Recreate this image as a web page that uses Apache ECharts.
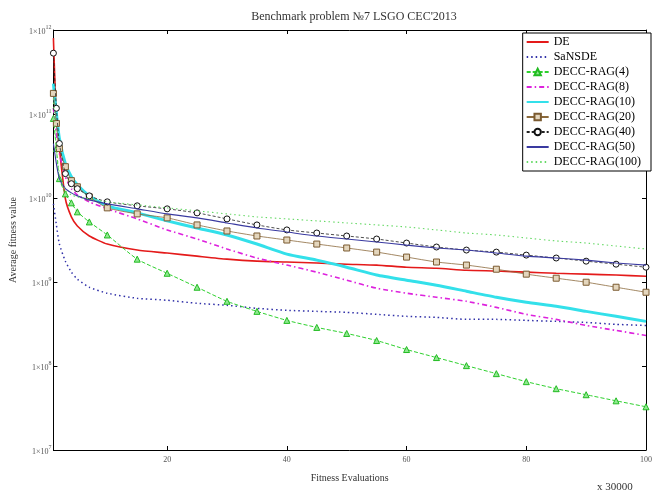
<!DOCTYPE html>
<html>
<head>
<meta charset="utf-8">
<script src="https://cdn.jsdelivr.net/npm/echarts@6/dist/echarts.min.js"></script>
<style>
  html, body { margin: 0; padding: 0; background: #fff; }
  #chart { width: 655px; height: 493px; }
</style>
</head>
<body>
<div id="chart"></div>
<script>
// Evaluation checkpoints (in units of 30000 fitness evaluations)
const evals = [1, 1.5, 2, 3, 4, 5, 7, 10, 15, 20, 25, 30, 35, 40, 45, 50, 55, 60, 65, 70, 75, 80, 85, 90, 95, 100];

// Average fitness value per algorithm at each checkpoint
const de       = [8.0e11, 8.86e10, 3.88e10, 9.8e9, 5.96e9, 4.65e9, 3.53e9, 2.83e9, 2.40e9, 2.21e9, 2.03e9, 1.87e9, 1.77e9, 1.73e9, 1.68e9, 1.63e9, 1.59e9, 1.50e9, 1.46e9, 1.38e9, 1.35e9, 1.31e9, 1.27e9, 1.24e9, 1.21e9, 1.17e9];
const sansde   = [8.52e9, 4.78e9, 2.83e9, 1.77e9, 1.31e9, 1.08e9, 8.66e8, 7.35e8, 6.40e8, 6.06e8, 5.58e8, 5.28e8, 4.86e8, 4.60e8, 4.47e8, 4.35e8, 4.12e8, 3.90e8, 3.79e8, 3.59e8, 3.59e8, 3.49e8, 3.40e8, 3.30e8, 3.13e8, 3.04e8];
const rag4     = [8.86e10, 3.88e10, 1.70e10, 1.12e10, 8.76e9, 6.84e9, 5.19e9, 3.63e9, 1.87e9, 1.27e9, 8.66e8, 5.89e8, 4.47e8, 3.49e8, 2.88e8, 2.44e8, 2.01e8, 1.57e8, 1.26e8, 1.01e8, 8.11e7, 6.51e7, 5.37e7, 4.55e7, 3.85e7, 3.27e7];
const rag8     = [1.17e11, 5.86e10, 3.38e10, 1.79e10, 1.29e10, 1.09e10, 9.0e9, 7.43e9, 5.64e9, 4.17e9, 3.25e9, 2.47e9, 1.93e9, 1.59e9, 1.31e9, 1.05e9, 8.43e8, 7.35e8, 6.58e8, 5.89e8, 4.99e8, 4.12e8, 3.59e8, 3.04e8, 2.65e8, 2.31e8];
const rag10    = [2.3e11, 1.02e11, 5.11e10, 2.56e10, 1.79e10, 1.44e10, 1.06e10, 8.07e9, 6.65e9, 5.34e9, 4.40e9, 3.63e9, 2.83e9, 2.15e9, 1.82e9, 1.50e9, 1.21e9, 1.05e9, 9.16e8, 7.76e8, 6.58e8, 5.73e8, 5.13e8, 4.47e8, 3.90e8, 3.40e8];
const rag20    = [1.76e11, 7.72e10, 3.88e10, 2.36e10, 1.61e10, 1.36e10, 1.03e10, 7.63e9, 6.47e9, 5.80e9, 4.78e9, 4.05e9, 3.53e9, 3.16e9, 2.83e9, 2.54e9, 2.27e9, 1.98e9, 1.73e9, 1.59e9, 1.42e9, 1.24e9, 1.11e9, 9.94e8, 8.66e8, 7.55e8];
const rag40    = [5.3e11, 1.17e11, 4.45e10, 1.95e10, 1.48e10, 1.29e10, 1.06e10, 9.0e9, 8.07e9, 7.43e9, 6.65e9, 5.64e9, 4.78e9, 4.17e9, 3.83e9, 3.53e9, 3.25e9, 2.91e9, 2.61e9, 2.40e9, 2.27e9, 2.09e9, 1.93e9, 1.77e9, 1.63e9, 1.50e9];
const rag50    = [4.45e10, 2.56e10, 1.70e10, 1.29e10, 1.15e10, 1.06e10, 9.5e9, 8.52e9, 7.43e9, 6.47e9, 5.80e9, 5.05e9, 4.40e9, 3.94e9, 3.53e9, 3.25e9, 2.99e9, 2.75e9, 2.54e9, 2.40e9, 2.21e9, 2.03e9, 1.93e9, 1.82e9, 1.68e9, 1.59e9];
const rag100   = [1.54e11, 3.88e10, 1.95e10, 1.22e10, 1.09e10, 1.03e10, 9.8e9, 9.0e9, 8.29e9, 7.63e9, 7.03e9, 6.47e9, 5.96e9, 5.64e9, 5.34e9, 5.05e9, 4.78e9, 4.52e9, 4.17e9, 3.83e9, 3.63e9, 3.34e9, 3.08e9, 2.91e9, 2.68e9, 2.47e9];

const seriesNames = ['DE', 'SaNSDE', 'DECC-RAG(4)', 'DECC-RAG(8)', 'DECC-RAG(10)', 'DECC-RAG(20)', 'DECC-RAG(40)', 'DECC-RAG(50)', 'DECC-RAG(100)'];

// Axis ticks
const xTicks = [20, 40, 60, 80, 100];
const yExponents = [7, 8, 9, 10, 11, 12];

const SERIF = '"Liberation Serif", "DejaVu Serif", serif';

function pairs(values) {
  return evals.map((x, i) => [x, values[i]]);
}

const styles = [
  { color: '#e41a1a', width: 1.6, type: 'solid', symbol: 'none' },
  { color: '#3030a8', width: 1.5, type: [1.5, 3], symbol: 'none' },
  { color: '#2ed12e', width: 1, type: [4, 2], symbol: 'triangle', size: 6, fill: '#8fe88f', border: '#22bb22' },
  { color: '#dd22dd', width: 1.6, type: [5, 3, 1.5, 3], symbol: 'none' },
  { color: '#33e0ea', width: 3, type: 'solid', symbol: 'none' },
  { color: '#8c6a3c', width: 0.8, type: 'solid', symbol: 'rect', size: 6, fill: '#e4d6bd', border: '#7a5a30' },
  { color: '#222222', width: 0.8, type: [3, 2], symbol: 'circle', size: 6, fill: '#ffffff', border: '#111111' },
  { color: '#3a3aa0', width: 1.1, type: 'solid', symbol: 'none' },
  { color: '#66d966', width: 1.1, type: [1.5, 3], symbol: 'none' }
];

const dataSets = [de, sansde, rag4, rag8, rag10, rag20, rag40, rag50, rag100];

const series = dataSets.map((vals, i) => {
  const s = styles[i];
  return {
    name: seriesNames[i],
    type: 'line',
    data: pairs(vals),
    smooth: 0.2,
    showSymbol: s.symbol !== 'none',
    symbol: s.symbol,
    symbolSize: s.size || 4,
    lineStyle: { color: s.color, width: s.width, type: s.type },
    itemStyle: s.symbol !== 'none'
      ? { color: s.fill, borderColor: s.border, borderWidth: 1 }
      : { color: s.color },
    animation: false,
    z: 2 + i
  };
});

// Legend entries: plain line samples for series drawn without markers
const legendData = seriesNames.map((name, i) => (
  styles[i].symbol === 'none'
    ? { name: name, itemStyle: { opacity: 0 } }
    : { name: name }
));

const chart = echarts.init(document.getElementById('chart'), null, { renderer: 'canvas' });

chart.setOption({
  backgroundColor: '#ffffff',
  animation: false,
  title: {
    text: "Benchmark problem \u21167 LSGO CEC'2013",
    left: 349,
    textAlign: 'center',
    top: 6,
    textStyle: { fontFamily: SERIF, fontSize: 12, fontWeight: 'normal', color: '#333' }
  },
  grid: { left: 48, right: 4, top: 30, bottom: 43, containLabel: false },
  legend: {
    orient: 'vertical',
    right: 4,
    top: 33,
    itemWidth: 22,
    itemHeight: 8,
    itemGap: 3,
    padding: [3, 10, 3, 3],
    backgroundColor: '#ffffff',
    borderColor: '#000',
    borderWidth: 1,
    textStyle: { fontFamily: SERIF, fontSize: 12, color: '#000' },
    data: legendData
  },
  xAxis: [
    {
      type: 'value',
      min: 1,
      max: 100,
      name: 'Fitness Evaluations',
      nameLocation: 'middle',
      nameGap: 23,
      nameTextStyle: { fontFamily: SERIF, fontSize: 10, color: '#333' },
      axisLine: { lineStyle: { color: '#000', width: 1 } },
      axisTick: { inside: true, length: 4, lineStyle: { color: '#000' }, customValues: xTicks },
      axisLabel: { customValues: xTicks, fontFamily: SERIF, fontSize: 8, color: '#555', margin: 6 },
      splitLine: { show: false }
    },
    {
      type: 'value',
      position: 'top',
      min: 1,
      max: 100,
      axisLine: { lineStyle: { color: '#000', width: 1 } },
      axisTick: { inside: true, length: 4, lineStyle: { color: '#000' }, customValues: xTicks },
      axisLabel: { show: false },
      splitLine: { show: false }
    }
  ],
  yAxis: [
    {
      type: 'log',
      logBase: 10,
      min: 1e7,
      max: 1e12,
      name: 'Average fitness value',
      nameLocation: 'middle',
      nameGap: 31,
      nameTextStyle: { fontFamily: SERIF, fontSize: 10, color: '#333' },
      axisLine: { lineStyle: { color: '#000', width: 1 } },
      axisTick: { inside: true, length: 4, lineStyle: { color: '#000' } },
      axisLabel: {
        margin: 2,
        formatter: function (v) {
          const e = Math.round(Math.log10(v));
          if (yExponents.indexOf(e) < 0) return '';
          return '{m|1\u00d710}{e|' + e + '}';
        },
        rich: {
          m: { fontFamily: SERIF, fontSize: 8, color: '#555', verticalAlign: 'bottom' },
          e: { fontFamily: SERIF, fontSize: 6, color: '#555', verticalAlign: 'top', padding: [0, 0, 6, 0] }
        }
      },
      splitLine: { show: false }
    },
    {
      type: 'log',
      logBase: 10,
      min: 1e7,
      max: 1e12,
      position: 'right',
      axisLine: { lineStyle: { color: '#000', width: 1 } },
      axisTick: { inside: true, length: 4, lineStyle: { color: '#000' } },
      axisLabel: { show: false },
      splitLine: { show: false }
    }
  ],
  graphic: [
    {
      type: 'text',
      left: 597,
      top: 482,
      style: { text: 'x 30000', font: '11px ' + SERIF, fill: '#333' }
    }
  ],
  series: series
});
</script>
</body>
</html>
